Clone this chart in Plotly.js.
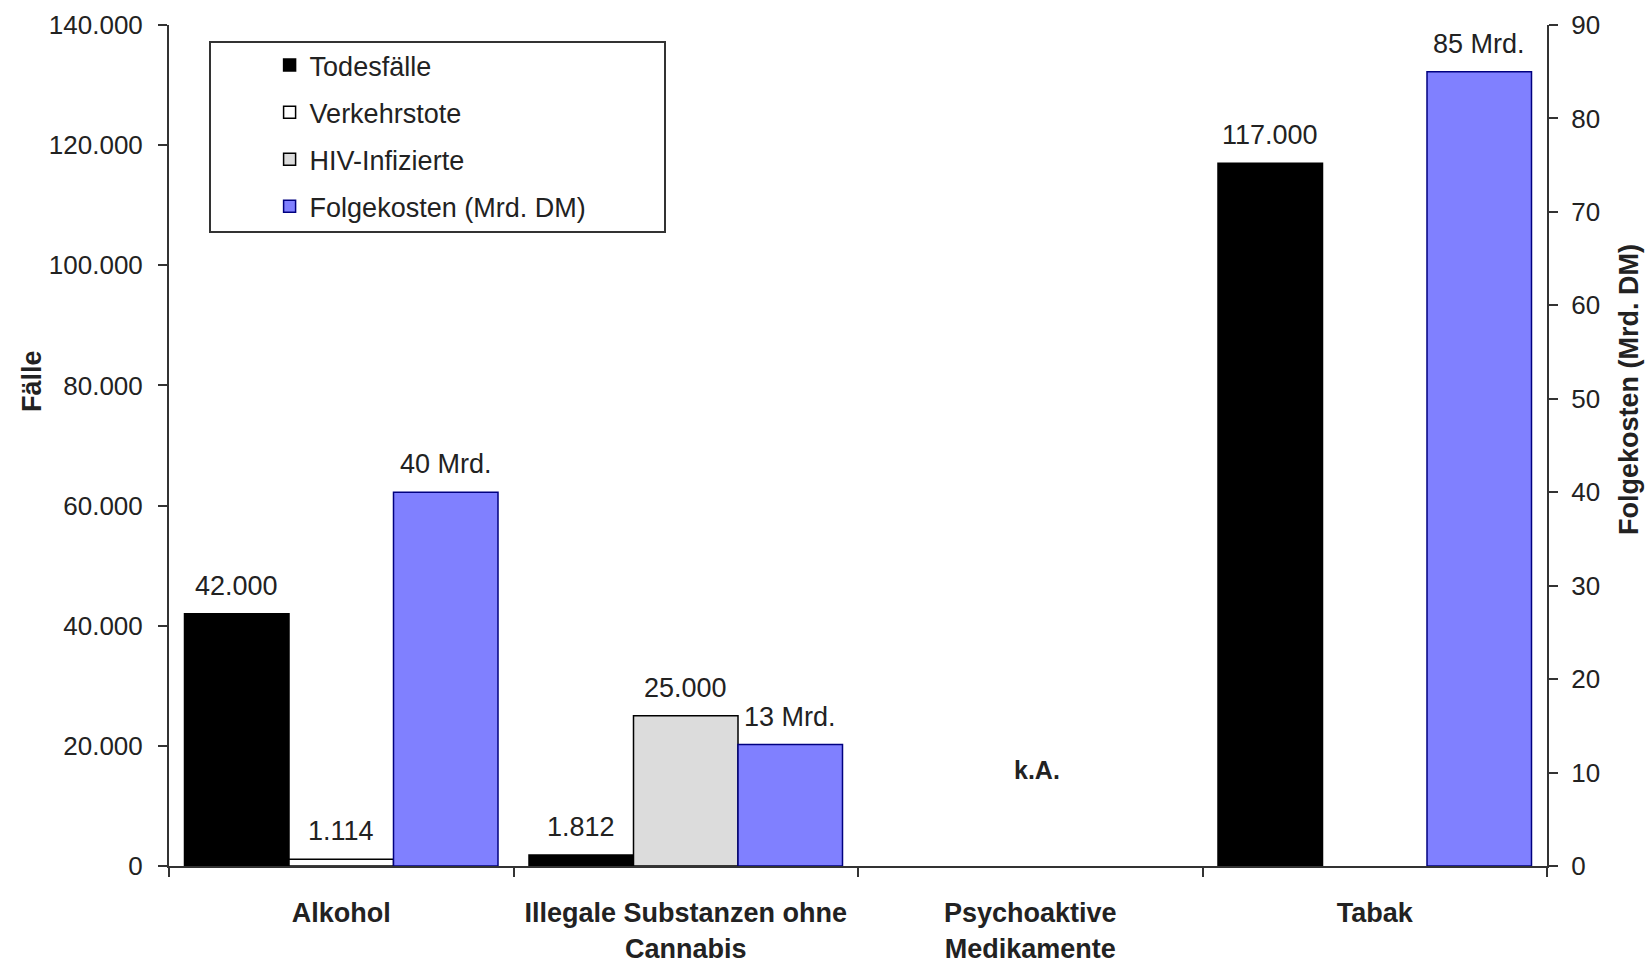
<!DOCTYPE html>
<html>
<head>
<meta charset="utf-8">
<script src="https://cdn.plot.ly/plotly-3.0.1.min.js"></script>
<style>
html,body{margin:0;padding:0;background:#fff;}
#chart{width:1652px;height:966px;}
</style>
</head>
<body>
<div id="chart"></div>
<script>
// ---- data ----
var categories = ["Alkohol", "Illegale Substanzen ohne<br>Cannabis", "Psychoaktive<br>Medikamente", "Tabak"];
var todesfaelle = [42000, 1812, null, 117000];
var verkehrstote = [1114, null, null, null];
var hivInfizierte = [null, 25000, null, null];
var folgekosten = [40, 13, null, 85];
var seriesNames = ["Todesfälle", "Verkehrstote", "HIV-Infizierte", "Folgekosten (Mrd. DM)"];
var leftTicks = [0, 20000, 40000, 60000, 80000, 100000, 120000, 140000];
var rightTicks = [0, 10, 20, 30, 40, 50, 60, 70, 80, 90];
var noDataLabel = "k.A.";
var noDataY = 16000;

var FONT = "Liberation Sans, Arial, sans-serif";
var TXT = "#222222";

var W = 1652, H = 966;
var M = {l: 169, r: 105, t: 25, b: 100};
var BARGAP = 0.09;
var plotW = W - M.l - M.r;
var catW = plotW / categories.length;
var slotW = catW * (1 - BARGAP) / 3;

function fmtThousands(v) {
  return String(v).replace(/\B(?=(\d{3})+(?!\d))/g, ".");
}

function barTrace(name, y, group, fill, line, axis, lg) {
  return {
    type: "bar", name: name, x: categories, y: y, yaxis: axis,
    offsetgroup: group, legendgroup: lg,
    marker: {color: fill, line: {color: line, width: 1.5}},
    hoverinfo: "skip"
  };
}

var data = [
  barTrace(seriesNames[0], todesfaelle, "a", "#000000", "#000000", "y", "g1"),
  barTrace(seriesNames[1], verkehrstote, "b", "#ffffff", "#000000", "y", "g2"),
  barTrace(seriesNames[2], hivInfizierte, "b", "#dcdcdc", "#000000", "y", "g3"),
  barTrace(seriesNames[3], folgekosten, "c", "#8080ff", "#000080", "y2", "g4")
];

// value labels, placed through the axes at each bar's value
var labelSeries = [
  {vals: todesfaelle, slot: 0, axis: "y", fmt: fmtThousands},
  {vals: verkehrstote, slot: 1, axis: "y", fmt: fmtThousands},
  {vals: hivInfizierte, slot: 1, axis: "y", fmt: fmtThousands},
  {vals: folgekosten, slot: 2, axis: "y2", fmt: function (v) { return v + " Mrd."; }}
];
var annotations = [];
labelSeries.forEach(function (s) {
  s.vals.forEach(function (v, i) {
    if (v === null) return;
    annotations.push({
      text: s.fmt(v), xref: "x", yref: s.axis, x: categories[i], y: v,
      xshift: (s.slot - 1) * slotW, yshift: 28, yanchor: "middle",
      showarrow: false, font: {family: FONT, size: 27, color: TXT}
    });
  });
});
annotations.push(
  {text: "Fälle", xref: "paper", yref: "paper", x: (15 - M.l) / plotW, y: (866 - 381) / 841,
   textangle: -90, showarrow: false, font: {family: FONT, size: 27, color: TXT, weight: "bold"}},
  {text: "Folgekosten (Mrd. DM)", xref: "paper", yref: "paper", x: (1646 - M.l) / plotW, y: (866 - 390) / 841,
   textangle: -90, showarrow: false, font: {family: FONT, size: 27, color: TXT, weight: "bold"}},
  {text: noDataLabel, xref: "x", yref: "y", x: categories[2], y: noDataY, xshift: 7,
   showarrow: false, font: {family: FONT, size: 25, color: TXT, weight: "bold"}}
);

var layout = {
  width: W, height: H,
  margin: M,
  paper_bgcolor: "#ffffff", plot_bgcolor: "#ffffff",
  separators: ",.",
  font: {family: FONT, size: 26, color: TXT},
  barmode: "group", bargap: BARGAP, bargroupgap: 0,
  showlegend: true,
  legend: {
    x: 0.073, y: 0.981, xanchor: "left", yanchor: "top",
    bgcolor: "rgba(0,0,0,0)", borderwidth: 0,
    traceorder: "grouped", tracegroupgap: 9,
    font: {family: FONT, size: 27, color: TXT}
  },
  xaxis: {
    type: "category", tickson: "boundaries", ticks: "outside", ticklen: 9,
    tickcolor: "#333", tickwidth: 2,
    showline: true, linecolor: "#333", linewidth: 2,
    showgrid: false, zeroline: false, fixedrange: true,
    tickfont: {family: FONT, size: 27, color: TXT, weight: "bold"},
    ticklabelstandoff: 22
  },
  yaxis: {
    range: [0, 140000], tickvals: leftTicks, tickformat: ",d",
    ticks: "outside", ticklen: 9, tickcolor: "#333", tickwidth: 2,
    showline: true, linecolor: "#333", linewidth: 2,
    showgrid: false, zeroline: false,
    tickfont: {family: FONT, size: 26, color: TXT},
    ticklabelstandoff: 10
  },
  yaxis2: {
    overlaying: "y", side: "right", range: [0, 90], tickvals: rightTicks,
    ticks: "outside", ticklen: 9, tickcolor: "#333", tickwidth: 2,
    showline: true, linecolor: "#333", linewidth: 2,
    showgrid: false, zeroline: false,
    tickfont: {family: FONT, size: 26, color: TXT},
    ticklabelstandoff: 8
  },
  shapes: [{
    type: "rect", xref: "paper", yref: "paper",
    x0: (210 - M.l) / plotW, x1: (665 - M.l) / plotW,
    y0: (866 - 232) / 841, y1: (866 - 42) / 841,
    line: {color: "#333", width: 2}, fillcolor: "rgba(0,0,0,0)", layer: "below"
  }],
  annotations: annotations
};

Plotly.newPlot("chart", data, layout, {displayModeBar: false, staticPlot: true});
</script>
</body>
</html>
